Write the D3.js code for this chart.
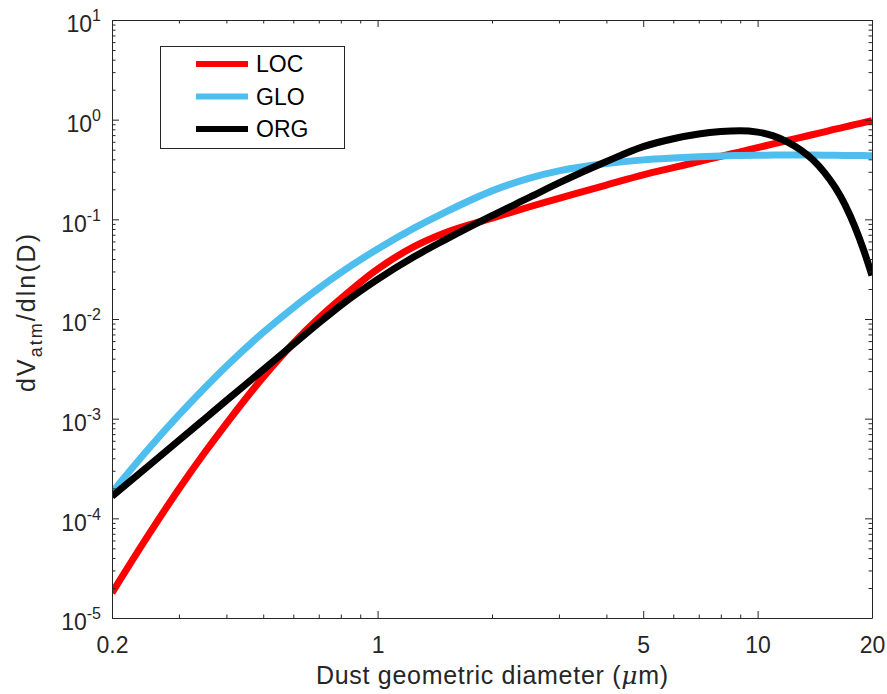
<!DOCTYPE html>
<html>
<head>
<meta charset="utf-8">
<script src="https://cdn.jsdelivr.net/npm/d3@7"></script>
<style>
  html, body { margin: 0; padding: 0; background: #fff; }
  svg { display: block; font-family: "Liberation Sans", Arial, Helvetica, sans-serif; }
</style>
</head>
<body>
<svg id="chart" width="887" height="694"></svg>
<script>
// ---------------- data ----------------
const diameters = [0.2,0.25,0.3,0.35,0.4,0.5,0.6,0.7,0.8,1,1.25,1.5,2,2.5,3,4,5,6,7,8,9,10,11,12,13,14,15,16,17,18,19,20];
const LOC = [1.79e-5,6.90e-5,1.97e-4,4.52e-4,8.93e-4,2.61e-3,5.71e-3,1.02e-2,1.60e-2,3.17e-2,5.36e-2,7.31e-2,0.103,0.133,0.162,0.221,0.280,0.330,0.379,0.429,0.476,0.524,0.571,0.618,0.664,0.710,0.755,0.802,0.845,0.891,0.935,0.980];
const GLO = [1.82e-4,5.02e-4,1.09e-3,2.02e-3,3.36e-3,7.33e-3,1.30e-2,2.03e-2,2.92e-2,5.04e-2,8.22e-2,0.117,0.193,0.258,0.306,0.363,0.395,0.412,0.424,0.432,0.437,0.440,0.441,0.442,0.442,0.441,0.440,0.439,0.438,0.437,0.436,0.435];
const ORG = [1.66e-4,3.38e-4,6.05e-4,9.91e-4,1.52e-3,3.10e-3,5.56e-3,9.10e-3,1.37e-2,2.50e-2,4.23e-2,6.19e-2,0.109,0.165,0.232,0.380,0.537,0.644,0.718,0.759,0.773,0.750,0.687,0.596,0.495,0.394,0.294,0.209,0.139,0.0855,0.0495,0.0273];
const seriesNames = ["LOC","GLO","ORG"];
const seriesColors = ["#ff0000","#4dbeee","#000000"];
const xMajorTicks = [0.2,1,5,10,20];
const xMinorTicks = [0.3,0.4,0.5,0.6,0.7,0.8,0.9,2,3,4,6,7,8,9];
const yMajorExponents = [-5,-4,-3,-2,-1,0,1];
const xTitle = "Dust geometric diameter (";
const yTitleMain = "dV", yTitleSub = "atm", yTitleTail = "/dln(D)";

// ---------------- layout ----------------
const svg = d3.select("#chart");
const L = 112, R = 872, T = 20, B = 618;
const axisColor = "#262626";

const x = d3.scaleLog().domain([0.2, 20]).range([L, R]);
const y = d3.scaleLog().domain([1e-5, 10]).range([B, T]);

const yMajor = yMajorExponents.map(e => Math.pow(10, e));
const yMinor = [];
for (let e = -5; e < 1; e++) for (let m = 2; m <= 9; m++) yMinor.push(m * Math.pow(10, e));

svg.append("defs").append("clipPath").attr("id", "plotclip")
  .append("rect").attr("x", L).attr("y", T).attr("width", R - L).attr("height", B - T);

svg.append("rect").attr("x", L).attr("y", T).attr("width", R - L).attr("height", B - T).attr("fill", "#fff");

// lines
const line = d3.line().x(d => x(d[0])).y(d => y(d[1])).curve(d3.curveMonotoneX);
const series = [LOC, GLO, ORG];
const gLines = svg.append("g").attr("clip-path", "url(#plotclip)");
series.forEach((vals, i) => {
  gLines.append("path")
    .datum(diameters.map((d, j) => [d, vals[j]]))
    .attr("d", line)
    .attr("fill", "none")
    .attr("stroke", seriesColors[i])
    .attr("stroke-width", 7)
    .attr("stroke-linejoin", "round");
});

function styleAxis(g) {
  g.select(".domain").attr("stroke", axisColor).attr("stroke-width", 1);
  g.selectAll(".tick line").attr("stroke", axisColor).attr("stroke-width", 1);
  g.selectAll(".tick text").attr("fill", axisColor);
}

// x axes
const gxB = svg.append("g").attr("transform", `translate(0,${B})`)
  .call(d3.axisBottom(x).tickValues(xMajorTicks).tickSizeInner(-7).tickSizeOuter(0).tickPadding(19).tickFormat(d => String(d)));
gxB.attr("font-size", 23).attr("font-family", null);
styleAxis(gxB);
const gxBm = svg.append("g").attr("transform", `translate(0,${B})`)
  .call(d3.axisBottom(x).tickValues(xMinorTicks).tickSizeInner(-3.5).tickSizeOuter(0).tickFormat(""));
styleAxis(gxBm); gxBm.select(".domain").remove();
const gxT = svg.append("g").attr("transform", `translate(0,${T})`)
  .call(d3.axisTop(x).tickValues(xMajorTicks).tickSizeInner(-7).tickSizeOuter(0).tickFormat(""));
styleAxis(gxT);
const gxTm = svg.append("g").attr("transform", `translate(0,${T})`)
  .call(d3.axisTop(x).tickValues(xMinorTicks).tickSizeInner(-3.5).tickSizeOuter(0).tickFormat(""));
styleAxis(gxTm); gxTm.select(".domain").remove();

// y axes
const gyL = svg.append("g").attr("transform", `translate(${L},0)`)
  .call(d3.axisLeft(y).tickValues(yMajor).tickSizeInner(-7).tickSizeOuter(0).tickPadding(12).tickFormat(""));
styleAxis(gyL);
gyL.attr("font-family", null);
gyL.selectAll(".tick text").each(function(d) {
  const t = d3.select(this);
  t.attr("font-size", 23).attr("dy", "0.52em").attr("x", -11);
  t.append("tspan").text("10");
  t.append("tspan").attr("font-size", 16).attr("dy", -11).text(String(Math.round(Math.log10(d))));
});
const gyLm = svg.append("g").attr("transform", `translate(${L},0)`)
  .call(d3.axisLeft(y).tickValues(yMinor).tickSizeInner(-3.5).tickSizeOuter(0).tickFormat(""));
styleAxis(gyLm); gyLm.select(".domain").remove();
const gyR = svg.append("g").attr("transform", `translate(${R},0)`)
  .call(d3.axisRight(y).tickValues(yMajor).tickSizeInner(-7).tickSizeOuter(0).tickFormat(""));
styleAxis(gyR);
const gyRm = svg.append("g").attr("transform", `translate(${R},0)`)
  .call(d3.axisRight(y).tickValues(yMinor).tickSizeInner(-3.5).tickSizeOuter(0).tickFormat(""));
styleAxis(gyRm); gyRm.select(".domain").remove();

// axis titles
const xt = svg.append("text").attr("x", (L + R) / 2).attr("y", 684)
  .attr("text-anchor", "middle").attr("font-size", 25).attr("fill", axisColor)
  .attr("textLength", 352).attr("lengthAdjust", "spacing");
xt.append("tspan").text(xTitle);
xt.append("tspan").attr("font-family", "'DejaVu Serif', serif").attr("font-style", "italic").text("\u03BC");
xt.append("tspan").text("m)");

const yt = svg.append("text").attr("transform", `translate(35,313) rotate(-90)`)
  .attr("text-anchor", "middle").attr("font-size", 25).attr("fill", axisColor)
  .attr("textLength", 158).attr("lengthAdjust", "spacing");
yt.append("tspan").text(yTitleMain);
yt.append("tspan").attr("font-size", 18).attr("dy", 7).text(yTitleSub);
yt.append("tspan").attr("dy", -7).text(yTitleTail);

// legend
const lg = svg.append("g");
lg.append("rect").attr("x", 160.5).attr("y", 46.5).attr("width", 184).attr("height", 102)
  .attr("fill", "#fff").attr("stroke", axisColor).attr("stroke-width", 1);
seriesNames.forEach((name, i) => {
  const yy = 64 + i * 32.5;
  lg.append("line").attr("x1", 196).attr("x2", 248).attr("y1", yy).attr("y2", yy)
    .attr("stroke", seriesColors[i]).attr("stroke-width", 6);
  lg.append("text").attr("x", 256).attr("y", yy + 8).attr("font-size", 23).attr("fill", "#000").text(name);
});
</script>
</body>
</html>
